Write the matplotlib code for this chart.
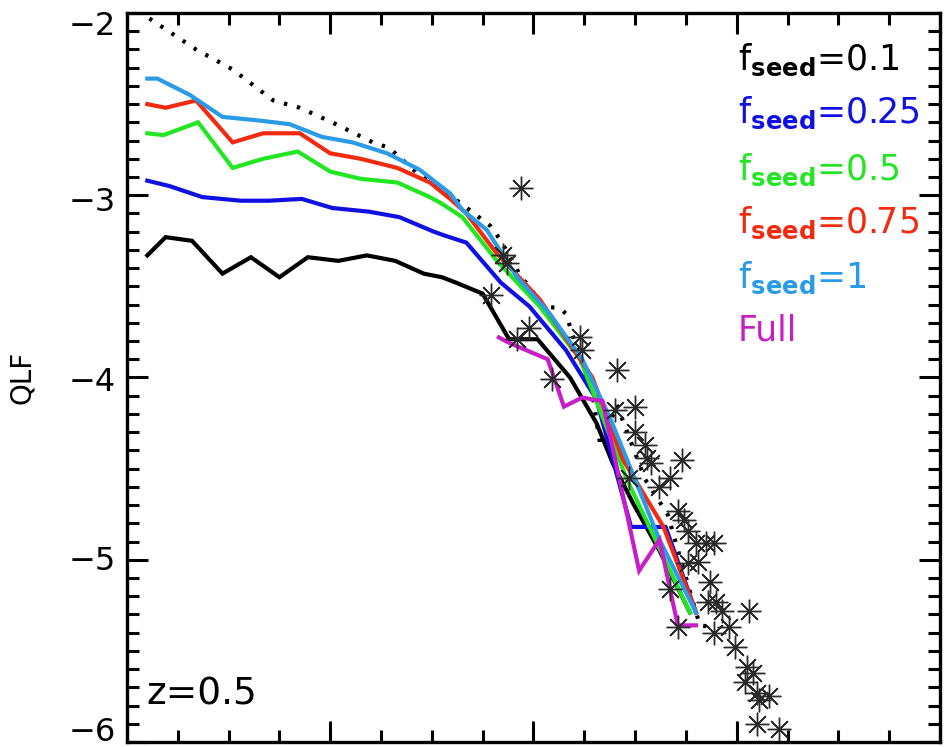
import matplotlib
matplotlib.use("Agg")
import matplotlib.pyplot as plt
from matplotlib.ticker import MultipleLocator, NullFormatter
from matplotlib.transforms import blended_transform_factory, offset_copy

plt.rcParams['font.family'] = ['DejaVu Sans']
plt.rcParams['mathtext.fontset'] = 'dejavusans'

# --- model QLFs for different seed fractions (log L, log phi) ---
x_f01 = [42.10, 42.19, 42.32, 42.47, 42.61, 42.75, 42.89, 43.04, 43.18, 43.32, 43.46,
         43.55, 43.62, 43.75, 43.88, 44.02, 44.18, 44.31, 44.39, 44.49, 44.62, 44.77]
y_f01 = [-3.33, -3.23, -3.25, -3.43, -3.34, -3.45, -3.34, -3.36, -3.33, -3.36, -3.43,
         -3.45, -3.48, -3.54, -3.79, -3.79, -4.00, -4.25, -4.47, -4.69, -4.95, -5.29]

x_f025 = [42.10, 42.21, 42.37, 42.56, 42.70, 42.86, 43.01, 43.19, 43.34, 43.51, 43.56,
          43.67, 43.84, 43.98, 44.16, 44.31, 44.48, 44.65, 44.80]
y_f025 = [-2.92, -2.95, -3.01, -3.03, -3.03, -3.02, -3.07, -3.09, -3.12, -3.20, -3.22,
          -3.26, -3.48, -3.61, -3.85, -4.12, -4.82, -4.82, -5.29]

x_f05 = [42.10, 42.18, 42.35, 42.52, 42.67, 42.84, 43.00, 43.15, 43.33, 43.49, 43.54,
         43.65, 43.82, 44.03, 44.23, 44.46, 44.77]
y_f05 = [-2.66, -2.67, -2.60, -2.85, -2.80, -2.76, -2.87, -2.91, -2.93, -3.01, -3.04,
         -3.12, -3.36, -3.61, -3.90, -4.56, -5.29]

x_f075 = [42.10, 42.19, 42.34, 42.52, 42.67, 42.85, 43.00, 43.15, 43.33, 43.49, 43.59,
          43.67, 43.82, 44.03, 44.29, 44.44, 44.64, 44.80]
y_f075 = [-2.50, -2.52, -2.48, -2.71, -2.66, -2.66, -2.77, -2.80, -2.85, -2.93, -3.02,
          -3.10, -3.32, -3.57, -4.00, -4.45, -4.82, -5.29]

x_f1 = [42.10, 42.15, 42.31, 42.47, 42.65, 42.80, 42.96, 43.11, 43.28, 43.44, 43.59,
        43.65, 43.77, 43.92, 44.08, 44.24, 44.38, 44.46, 44.62, 44.80]
y_f1 = [-2.36, -2.36, -2.45, -2.57, -2.59, -2.61, -2.68, -2.71, -2.77, -2.86, -2.99,
        -3.08, -3.19, -3.45, -3.65, -3.90, -4.23, -4.45, -4.89, -5.29]

x_full = [43.83, 43.88, 44.07, 44.15, 44.24, 44.34, 44.52, 44.62, 44.71, 44.80]
y_full = [-3.78, -3.81, -3.90, -4.16, -4.11, -4.13, -5.06, -4.89, -5.36, -5.36]

# --- reference QLF (dotted) ---
x_ref = [42.11, 42.34, 42.52, 42.72, 42.85, 43.01, 43.21, 43.29, 43.43, 43.59, 43.79,
         43.84, 43.93, 44.05, 44.13, 44.16, 44.23, 44.29, 44.33, 44.41, 44.55, 44.66,
         44.80, 44.82, 44.89]
y_ref = [-2.03, -2.20, -2.31, -2.48, -2.52, -2.60, -2.71, -2.74, -2.88, -3.00, -3.17,
         -3.25, -3.43, -3.61, -3.62, -3.65, -3.90, -4.09, -4.38, -4.15, -4.56, -4.75,
         -5.29, -5.36, -5.37]

# --- observed QLF points ---
x_obs = [43.94, 43.85, 43.87, 43.79, 43.98, 43.92, 44.09, 44.23, 44.24, 44.41, 44.40,
         44.50, 44.50, 44.55, 44.56, 44.58, 44.73, 44.67, 44.62, 44.47, 44.71, 44.74,
         44.76, 44.80, 44.85, 44.89, 44.81, 44.76, 44.87, 44.67, 44.86, 44.90, 44.93,
         45.06, 44.71, 44.89, 44.96, 44.99, 45.05, 45.08, 45.04, 45.10, 45.16, 45.11,
         45.10, 45.21]
y_obs = [-2.96, -3.33, -3.37, -3.55, -3.73, -3.79, -4.01, -3.78, -3.85, -3.96, -4.18,
         -4.16, -4.30, -4.37, -4.44, -4.47, -4.45, -4.55, -4.60, -4.55, -4.73, -4.78,
         -4.84, -4.91, -4.91, -4.91, -5.01, -5.02, -5.12, -5.16, -5.23, -5.23, -5.28,
         -5.28, -5.37, -5.40, -5.37, -5.48, -5.59, -5.62, -5.67, -5.73, -5.75, -5.77,
         -5.90, -5.93]

y_tick_values = [-2, -3, -4, -5, -6]
y_tick_labels = ['\u22122', '\u22123', '\u22124', '\u22125', '\u22126']

series = [
    (x_f01, y_f01, '#000000', r'f$_{\mathbf{seed}}$=0.1'),
    (x_f025, y_f025, '#1010e0', r'f$_{\mathbf{seed}}$=0.25'),
    (x_f05, y_f05, '#22e622', r'f$_{\mathbf{seed}}$=0.5'),
    (x_f075, y_f075, '#f22a10', r'f$_{\mathbf{seed}}$=0.75'),
    (x_f1, y_f1, '#2a9be6', r'f$_{\mathbf{seed}}$=1'),
    (x_full, y_full, '#c81ec8', 'Full'),
]

fig = plt.figure(figsize=(9.44, 7.47), dpi=100)
ax = fig.add_axes([0.1345, 0.0067, 0.8612, 0.9759])

ax.plot(x_ref, y_ref, color='black', lw=3.0, linestyle=(0, (0.8, 2.4)),
        dash_capstyle='butt', zorder=2)
for xs, ys, c, _ in series:
    ax.plot(xs, ys, color=c, lw=3.0, solid_joinstyle='miter', zorder=3)
ax.plot(x_obs, y_obs, linestyle='none', marker=(8, 2, 0), markersize=17,
        markeredgewidth=1.0, markeredgecolor='#2a2a2a', zorder=4)

ax.set_xlim(42, 46)
ax.set_ylim(-6, -2)
ax.xaxis.set_major_locator(MultipleLocator(1))
ax.xaxis.set_minor_locator(MultipleLocator(0.25))
ax.yaxis.set_major_locator(MultipleLocator(1))
ax.yaxis.set_minor_locator(MultipleLocator(0.1))
ax.xaxis.set_major_formatter(NullFormatter())
ax.yaxis.set_major_formatter(NullFormatter())
ax.tick_params(which='both', direction='in', top=True, right=True, width=2.2)
ax.tick_params(which='major', length=15)
ax.tick_params(which='minor', length=8.5)
for s in ax.spines.values():
    s.set_linewidth(2.4)

# y tick labels, nudged the way the plotting device places them
label_shift_pt = [-10, -5, -3.6, -1.5, 6.5]
base = blended_transform_factory(ax.transAxes, ax.transData)
for val, lab, dy in zip(y_tick_values, y_tick_labels, label_shift_pt):
    tr = offset_copy(base, fig=fig, x=0, y=dy, units='points')
    ax.text(-0.0135, val, lab, transform=tr, ha='right', va='center',
            fontsize=23, clip_on=False)

ax.text(-0.129, 0.5, 'QLF', rotation=90, ha='center', va='center',
        fontsize=20, transform=ax.transAxes)

ys_leg = [0.922, 0.849, 0.771, 0.698, 0.623, 0.551]
for (_, _, c, lab), yy in zip(series, ys_leg):
    ax.text(0.7515, yy, lab, color=c, fontsize=25, ha='left', va='baseline',
            transform=ax.transAxes)

ax.text(0.0234, 0.051, 'z=0.5', fontsize=27, ha='left', va='baseline',
        transform=ax.transAxes)

fig.savefig('out.png', dpi=100)
